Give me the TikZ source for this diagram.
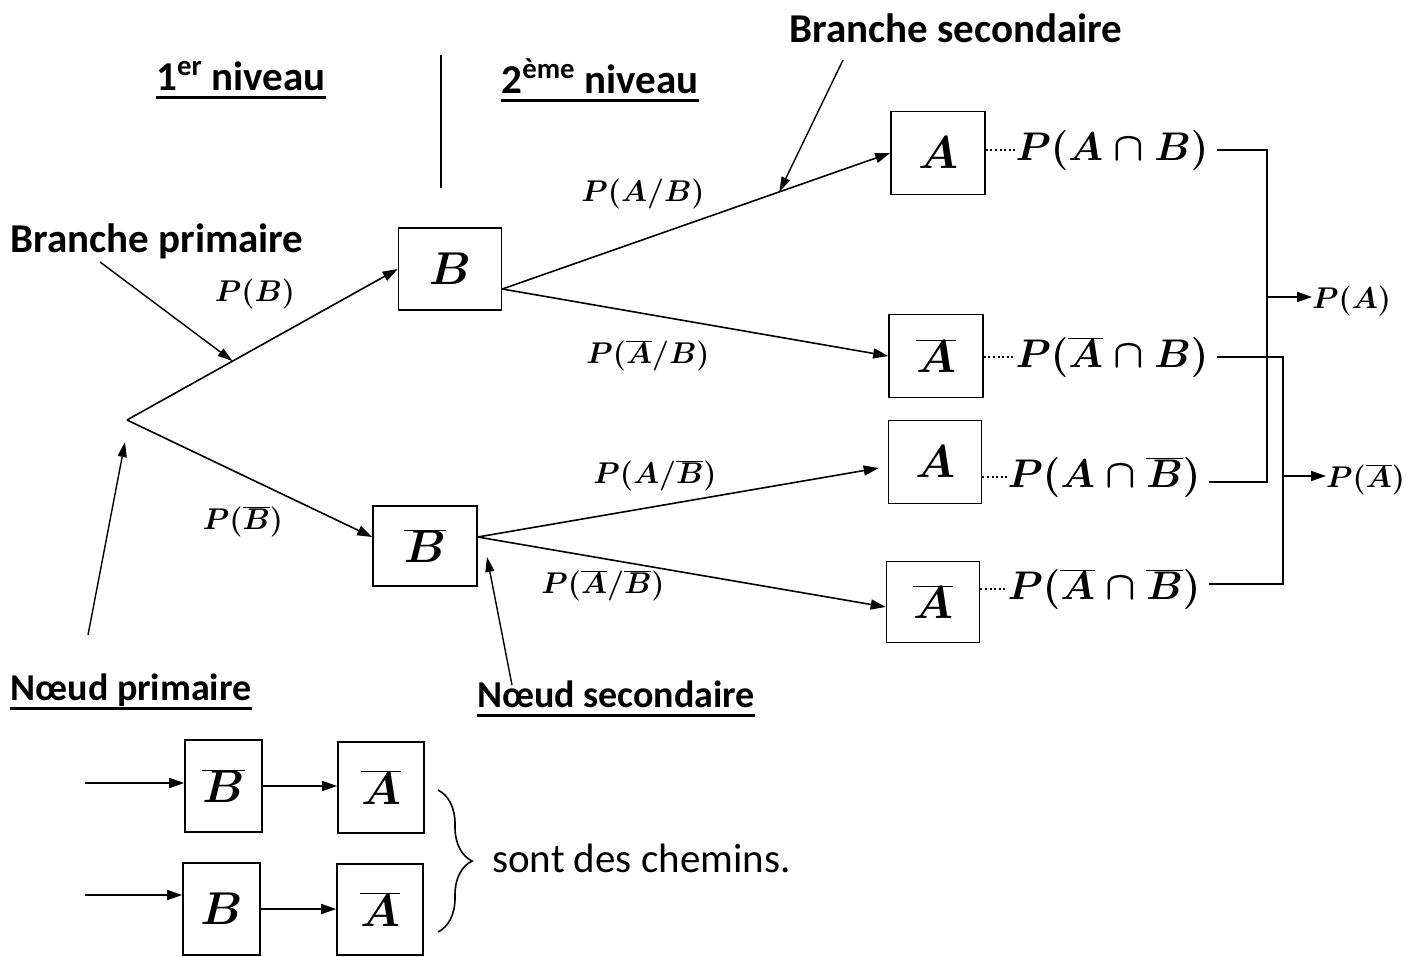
\RequirePackage{fix-cm}
\documentclass[tikz,border=0pt]{standalone}
\usepackage{fontspec}
\setmainfont{Carlito}
\usetikzlibrary{arrows.meta,calc,decorations.pathreplacing}
\newcommand\mth[1]{{\boldmath$#1$}}
\begin{document}
\begin{tikzpicture}[x=1pt,y=-1pt,
  ln/.style={line width=1.6pt},
  dots/.style={line width=2.4pt,dash pattern=on 2pt off 2.6pt},
  arr/.style={line width=1.6pt,-{Triangle[length=15pt,width=10pt]}},
  ptr/.style={line width=1.4pt,-{Triangle[length=15pt,width=9pt]}},
  boxn/.style={draw,line width=1.6pt,inner sep=0pt,font=\fontsize{46}{52}\selectfont},
  lbl/.style={inner sep=0pt,font=\bfseries\fontsize{41}{48}\selectfont},
  lbln/.style={inner sep=0pt,font=\bfseries\fontsize{38}{44}\selectfont},
  brl/.style={inner sep=0pt,font=\fontsize{30}{36}\selectfont},
  itx/.style={inner sep=0pt,font=\fontsize{40}{48}\selectfont},
  ul/.style={line width=2.6pt}]
\useasboundingbox (0,0) rectangle (1412,956);

% level headers
\node[lbl] (lev1) at (241,76) {1\textsuperscript{er} niveau};
\node[lbl] (lev2) at (600,76) {2\textsuperscript{ème} niveau};
\draw[ul] ([yshift=-7pt]lev1.base west) -- ([yshift=-7pt]lev1.base east);
\draw[ul] ([yshift=-7pt]lev2.base west) -- ([yshift=-7pt]lev2.base east);
\coordinate (vt) at (441,55);
\coordinate (vb) at (441,188);
\draw[ln] (vt) -- (vb);

% tree
\coordinate (r) at (127,420);
\node[boxn,minimum width=103pt,minimum height=82pt] (B) at (450,269) {\mth{B}};
\node[boxn,minimum width=104pt,minimum height=80pt] (Bb) at (425,546) {\mth{\overline{B}}};
\node[boxn,minimum width=94pt,minimum height=83pt] (A1) at (938,153) {\mth{A}};
\node[boxn,minimum width=94pt,minimum height=83pt] (A2) at (936,356) {\mth{\overline{A}}};
\node[boxn,minimum width=93pt,minimum height=83pt] (A3) at (935,462) {\mth{A}};
\node[boxn,minimum width=93pt,minimum height=81pt] (A4) at (933,602) {\mth{\overline{A}}};

\draw[arr] (r) -- (B.west);
\draw[arr] (r) -- ([yshift=9pt]Bb.west);
\draw[arr] ([yshift=-20pt]B.east) -- (A1.west);
\draw[arr] ([yshift=-20pt]B.east) -- (A2.west);
\draw[arr] ([yshift=9pt]Bb.east) -- ([xshift=-9pt,yshift=-6pt]A3.west);
\draw[arr] ([yshift=9pt]Bb.east) -- ([yshift=-5pt]A4.west);

% branch labels
\node[brl] (pB) at (255,294) {\mth{P(B)}};
\node[brl] (pBb) at (243,522) {\mth{P(\overline{B})}};
\node[brl] (pAB) at (643,194) {\mth{P(A/B)}};
\node[brl] (pAbB) at (648,356) {\mth{P(\overline{A}/B)}};
\node[brl] (pABb) at (655,476) {\mth{P(A/\overline{B})}};
\node[brl] (pAbBb) at (603,586) {\mth{P(\overline{A}/\overline{B})}};

% annotations
\node[lbl] (bsec) at (956,28) {Branche secondaire};
\node[lbl] (bprim) at (157,241) {Branche primaire};
\node[lbln] (nprim) at (131,690) {Nœud primaire};
\node[lbln] (nsec) at (616,694) {Nœud secondaire};
\draw[ul] ([yshift=-8pt]nprim.base west) -- ([yshift=-8pt]nprim.base east);
\draw[ul] ([yshift=-8pt]nsec.base west) -- ([yshift=-8pt]nsec.base east);
\coordinate (bsecS) at (843,60);
\coordinate (bprimS) at (100,262);
\coordinate (nprimS) at (88,635);
\coordinate (nsecS) at (512,685);
\draw[ptr] (bsecS) -- ($([yshift=-20pt]B.east)!0.714!(A1.west)$);
\draw[ptr] (bprimS) -- ($(r)!0.39!(B.west)$);
\draw[ptr] (nprimS) -- (125,442);
\draw[ptr] (nsecS) -- (487,557);

% intersections
\node[itx] (i1) at (1112,150) {\mth{P(A\cap B)}};
\node[itx] (i2) at (1112,357) {\mth{P(\overline{A}\cap B)}};
\node[itx] (i3) at (1104,477) {\mth{P(A\cap \overline{B})}};
\node[itx] (i4) at (1104,589) {\mth{P(\overline{A}\cap \overline{B})}};
\draw[dots] (A1.east|-i1.west) -- (i1.west);
\draw[dots] (A2.east|-i2.west) -- (i2.west);
\draw[dots] (A3.east|-i3.west) -- (i3.west);
\draw[dots] (A4.east|-i4.west) -- (i4.west);

\coordinate (j1) at (1267,297);
\coordinate (j2) at (1283,476);
\node[brl,anchor=west] (pA) at (1312,301) {\mth{P(A)}};
\node[brl,anchor=west] (pAb) at (1326,480) {\mth{P(\overline{A})}};
\draw[ln] ([xshift=8pt]i1.east) -| (j1) |- ([xshift=8pt,yshift=-5pt]i3.east);
\draw[ln] ([xshift=8pt]i2.east) -| (j2) |- ([xshift=8pt,yshift=5pt]i4.east);
\draw[arr] (j1) -- (j1-|pA.west);
\draw[arr] (j2) -- (j2-|pAb.west);

% paths
\coordinate (s1) at (85,783);
\coordinate (s2) at (85,895);
\node[boxn,minimum width=77pt,minimum height=92pt] (c1B) at (223.5,786) {\mth{\overline{B}}};
\node[boxn,minimum width=86pt,minimum height=91pt] (c1A) at (381,787.5) {\mth{\overline{A}}};
\node[boxn,minimum width=77pt,minimum height=92pt] (c2B) at (221.5,909) {\mth{B}};
\node[boxn,minimum width=86pt,minimum height=91pt] (c2A) at (380,909.5) {\mth{\overline{A}}};
\draw[arr] (s1) -- (s1-|c1B.west);
\draw[arr] (c1B.east) -- (c1B.east-|c1A.west);
\draw[arr] (s2) -- (s2-|c2B.west);
\draw[arr] (c2B.east) -- (c2B.east-|c2A.west);
\draw[ln,decorate,decoration={brace,amplitude=34pt}] (438,790) -- (438,932);
\node[inner sep=0pt,anchor=west,font=\fontsize{41}{48}\selectfont] (chem) at (492,858) {sont des chemins.};
\end{tikzpicture}
\end{document}
